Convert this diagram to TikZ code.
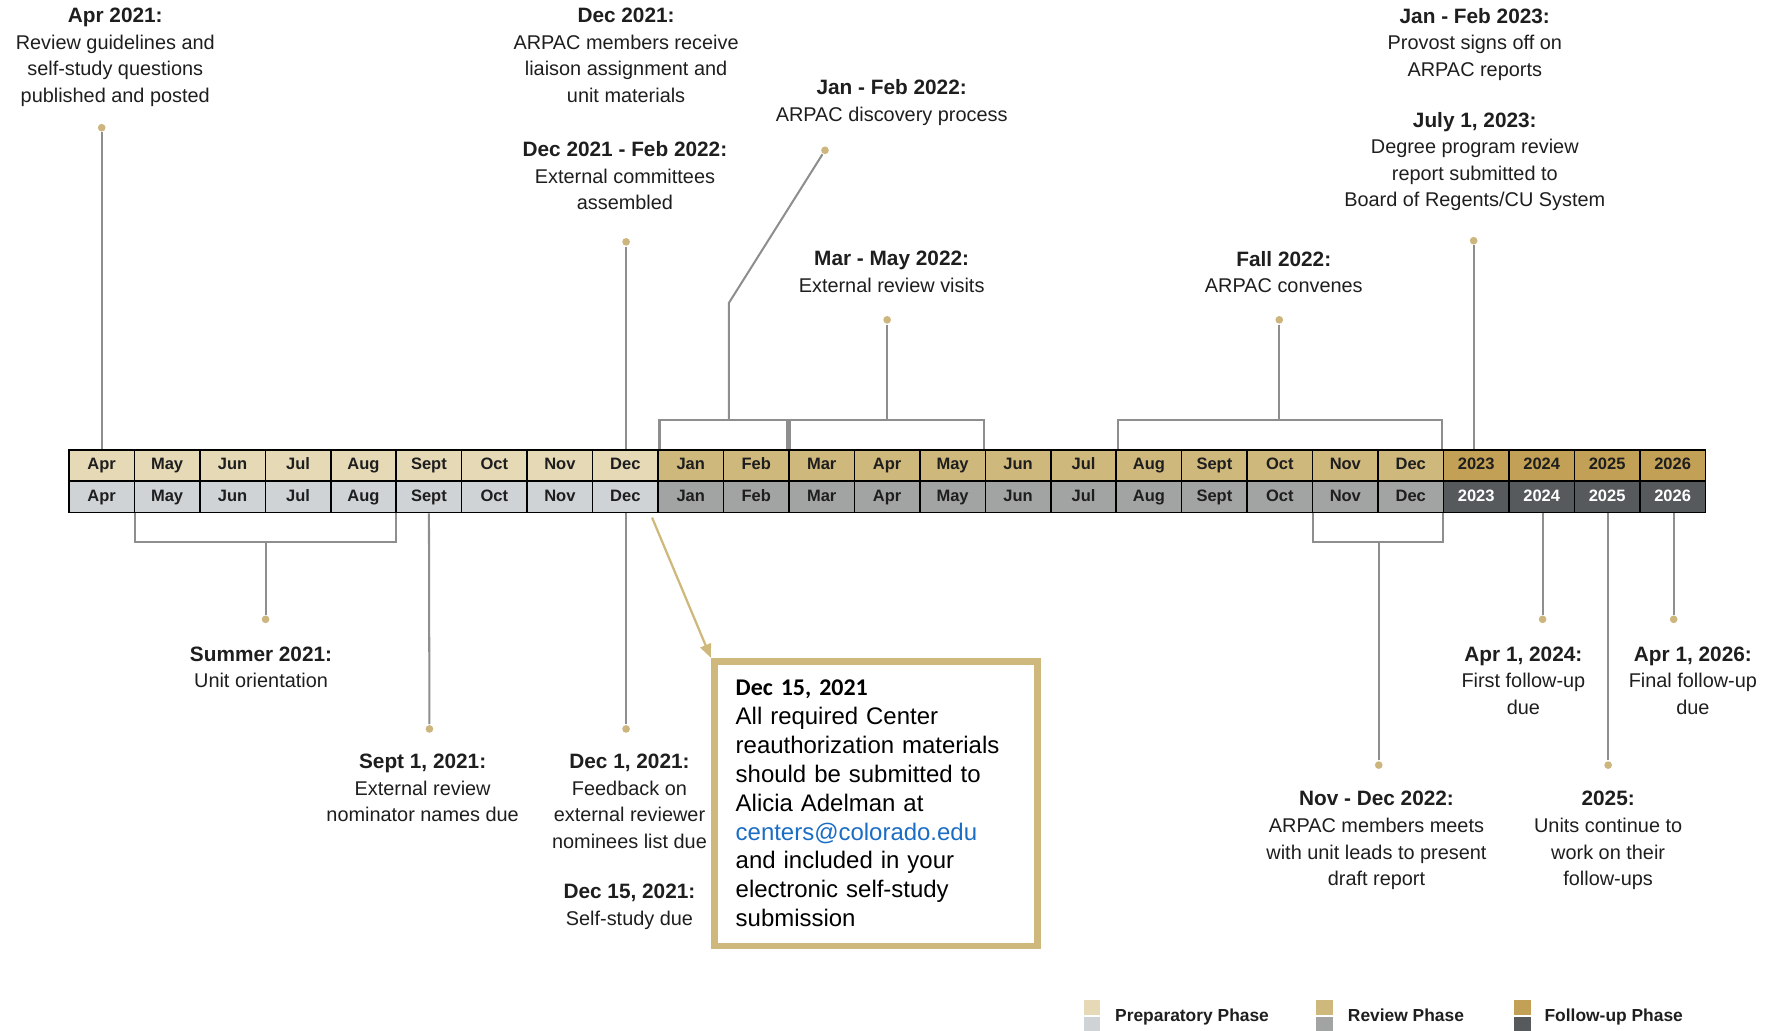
\documentclass[tikz,border=0pt]{standalone}
\usepackage{fontspec}
\setmainfont{Liberation Sans}
\newfontfamily\calibrifont{Carlito}
\usetikzlibrary{arrows.meta}

\definecolor{prepA}{HTML}{E5D9B6}
\definecolor{prepB}{HTML}{CFD3D6}
\definecolor{revA}{HTML}{CFB87C}
\definecolor{revB}{HTML}{A2A4A3}
\definecolor{folA}{HTML}{C2A055}
\definecolor{folB}{HTML}{565A5C}
\definecolor{linkc}{HTML}{8E8E8E}
\definecolor{dotc}{HTML}{CDB67E}
\definecolor{boxc}{HTML}{CFB87C}
\definecolor{mailc}{HTML}{1A6DC4}
\definecolor{txtc}{HTML}{1E1E1E}

\newcommand{\evhead}[1]{{\fontsize{9.2}{11.75}\selectfont\bfseries #1}}

\tikzset{every picture/.style={line width=0.75pt},
  cell/.style={draw=black, line width=0.7pt, minimum width=28.96pt, minimum height=13.9pt, inner sep=0pt, text height=5.3pt, text depth=1.5pt, text=txtc, font=\fontsize{7.3}{8}\selectfont\bfseries},
  lbl/.style={anchor=north, inner sep=0pt, align=center, text=txtc, font=\fontsize{8.8}{11.75}\selectfont},
  dot/.style={circle, fill=dotc, inner sep=0pt, minimum size=3.4pt},
  link/.style={draw=linkc, line width=0.9pt},
  pointer/.style={draw=boxc, line width=1pt, -{Triangle[length=6pt,width=5pt]}},
  notebox/.style={draw=boxc, line width=3pt, minimum width=143pt, minimum height=126pt, text width=124pt, inner xsep=9.5pt, align=left, font=\fontsize{10.6}{12.75}\selectfont},
  legsw/.style={inner sep=0pt, minimum width=7.5pt, minimum height=6.5pt},
  legtxt/.style={inner sep=0pt, text height=5.6pt, text depth=1.6pt, text=txtc, font=\fontsize{7.7}{9}\selectfont\bfseries}
}

\begin{document}
\begin{tikzpicture}[x=0.5pt,y=0.5pt,yscale=-1,xscale=1]
\useasboundingbox (0,0) rectangle (1568,912);

%Shape: Month bar, preparatory phase
\foreach \m [count=\i] in {Apr,May,Jun,Jul,Aug,Sept,Oct,Nov,Dec}{
  \node[cell, fill=prepA] (t\i) at ({61+57.92*(\i-0.5)},411.9) {\m};
  \node[cell, fill=prepB] (b\i) at ({61+57.92*(\i-0.5)},439.7) {\m};
}
%Shape: Month bar, review phase
\foreach \m [count=\i from 10] in {Jan,Feb,Mar,Apr,May,Jun,Jul,Aug,Sept,Oct,Nov,Dec}{
  \node[cell, fill=revA] (t\i) at ({61+57.92*(\i-0.5)},411.9) {\m};
  \node[cell, fill=revB] (b\i) at ({61+57.92*(\i-0.5)},439.7) {\m};
}
%Shape: Month bar, follow-up phase
\foreach \m [count=\i from 22] in {2023,2024,2025,2026}{
  \node[cell, fill=folA] (t\i) at ({61+57.92*(\i-0.5)},411.9) {\m};
  \node[cell, fill=folB, text=white] (b\i) at ({61+57.92*(\i-0.5)},439.7) {\m};
}

%Dots above the bar
\node[dot] (dapr) at (90,113) {};
\node[dot] (ddec) at (554,214) {};
\node[dot] (djan) at (730,133) {};
\node[dot] (dmar) at (785,283) {};
\node[dot] (dfall) at (1132,283) {};
\node[dot] (djul) at (1304,213) {};
%Dots below the bar
\node[dot] (dsum) at (235,548) {};
\node[dot] (dsep) at (380,645) {};
\node[dot] (ddecb) at (554,645) {};
\node[dot] (dnov) at (1220,677) {};
\node[dot] (dapra) at (1365,548) {};
\node[dot] (dyr) at (1423,677) {};
\node[dot] (daprb) at (1481,548) {};
\coordinate (elbow) at (645,268);
\coordinate (arrst) at (577,458);

%Straight Lines above the bar
\draw[link] (dapr) -- (dapr |- t1.north);
\draw[link] (ddec) -- (ddec |- t9.north);
\draw[link] ([xshift=1pt]t10.north west) -- ++(0,-26) coordinate (jfb) -| ([xshift=-1pt]t11.north east);
\draw[link] (jfb -| elbow) -- (elbow) -- (djan);
\draw[link] ([xshift=1pt]t12.north west) -- ++(0,-26) coordinate (mmb) -| ([xshift=-1pt]t14.north east);
\draw[link] (mmb -| dmar) -- (dmar);
\draw[link] ([xshift=1pt]t17.north west) -- ++(0,-26) coordinate (adb) -| ([xshift=-1pt]t21.north east);
\draw[link] (adb -| dfall) -- (dfall);
\draw[link] (djul) -- (djul |- t22.north);
%Straight Lines below the bar
\draw[link] ([xshift=0.6pt]b2.south west) -- ++(0,25) coordinate (sub) -| ([xshift=-0.6pt]b5.south east);
\draw[link] (sub -| dsum) -- (dsum);
\draw[link] (b6.south) -- (dsep);
\draw[link] (ddecb |- b9.south) -- (ddecb);
\draw[link] ([xshift=0.6pt]b20.south west) -- ++(0,25) coordinate (ndb) -| ([xshift=-0.6pt]b21.south east);
\draw[link] (ndb -| dnov) -- (dnov);
\draw[link] (dapra |- b23.south) -- (dapra);
\draw[link] (dyr |- b24.south) -- (dyr);
\draw[link] (daprb |- b25.south) -- (daprb);

% Text Node
\node[lbl] (apr21) at (102,6.5) {\evhead{Apr 2021:}\\Review guidelines and\\self-study questions\\published and posted};
% Text Node
\node[lbl] (dec21) at (554,6.5) {\evhead{Dec 2021:}\\ARPAC members receive\\liaison assignment and\\unit materials};
% Text Node
\node[lbl] (decfeb) at (553,124.5) {\evhead{Dec 2021 - Feb 2022:}\\External committees\\assembled};
% Text Node
\node[lbl] (janfeb) at (789,69.5) {\evhead{Jan - Feb 2022:}\\ARPAC discovery process};
% Text Node
\node[lbl] (marmay) at (789,221.5) {\evhead{Mar - May 2022:}\\External review visits};
% Text Node
\node[lbl] (fall22) at (1136,221.5) {\evhead{Fall 2022:}\\ARPAC convenes};
% Text Node
\node[lbl] (janfeb23) at (1305,6.5) {\evhead{Jan - Feb 2023:}\\Provost signs off on\\ARPAC reports};
% Text Node
\node[lbl] (jul23) at (1305,98.5) {\evhead{July 1, 2023:}\\Degree program review\\report submitted to\\Board of Regents/CU System};
% Text Node
\node[lbl] (sum21) at (231,571.5) {\evhead{Summer 2021:}\\Unit orientation};
% Text Node
\node[lbl] (sep21) at (374,666.5) {\evhead{Sept 1, 2021:}\\External review\\nominator names due};
% Text Node
\node[lbl] (dec1) at (557,666.5) {\evhead{Dec 1, 2021:}\\Feedback on\\external reviewer\\nominees list due};
% Text Node
\node[lbl] (dec15) at (557,781.5) {\evhead{Dec 15, 2021:}\\Self-study due};
% Text Node
\node[lbl] (apr24) at (1348,571.5) {\evhead{Apr 1, 2024:}\\First follow-up\\due};
% Text Node
\node[lbl] (apr26) at (1498,571.5) {\evhead{Apr 1, 2026:}\\Final follow-up\\due};
% Text Node
\node[lbl] (novdec) at (1218,699.5) {\evhead{Nov - Dec 2022:}\\ARPAC members meets\\with unit leads to present\\draft report};
% Text Node
\node[lbl] (yr25) at (1423,699.5) {\evhead{2025:}\\Units continue to\\work on their\\follow-ups};

%Shape: Note box
\node[notebox] (note) at (775,711) {{\calibrifont\bfseries Dec 15, 2021}\\All required Center\\reauthorization materials\\should be submitted to\\Alicia Adelman at\\\textcolor{mailc}{centers@colorado.edu}\\and included in your\\electronic self-study\\submission};
\draw[pointer] (arrst) -- (note.north west);

%Legend
\node[legsw, fill=prepA, anchor=south west] (lg1t) at (958,899) {};
\node[legsw, fill=prepB, anchor=north west] (lg1b) at (958,899) {};
\node[legtxt, anchor=west] (lg1) at (986,900) {Preparatory Phase};
\node[legsw, fill=revA, anchor=south west] (lg2t) at (1164,899) {};
\node[legsw, fill=revB, anchor=north west] (lg2b) at (1164,899) {};
\node[legtxt, anchor=west] (lg2) at (1192,900) {Review Phase};
\node[legsw, fill=folA, anchor=south west] (lg3t) at (1339,899) {};
\node[legsw, fill=folB, anchor=north west] (lg3b) at (1339,899) {};
\node[legtxt, anchor=west] (lg3) at (1366,900) {Follow-up Phase};

\end{tikzpicture}
\end{document}
